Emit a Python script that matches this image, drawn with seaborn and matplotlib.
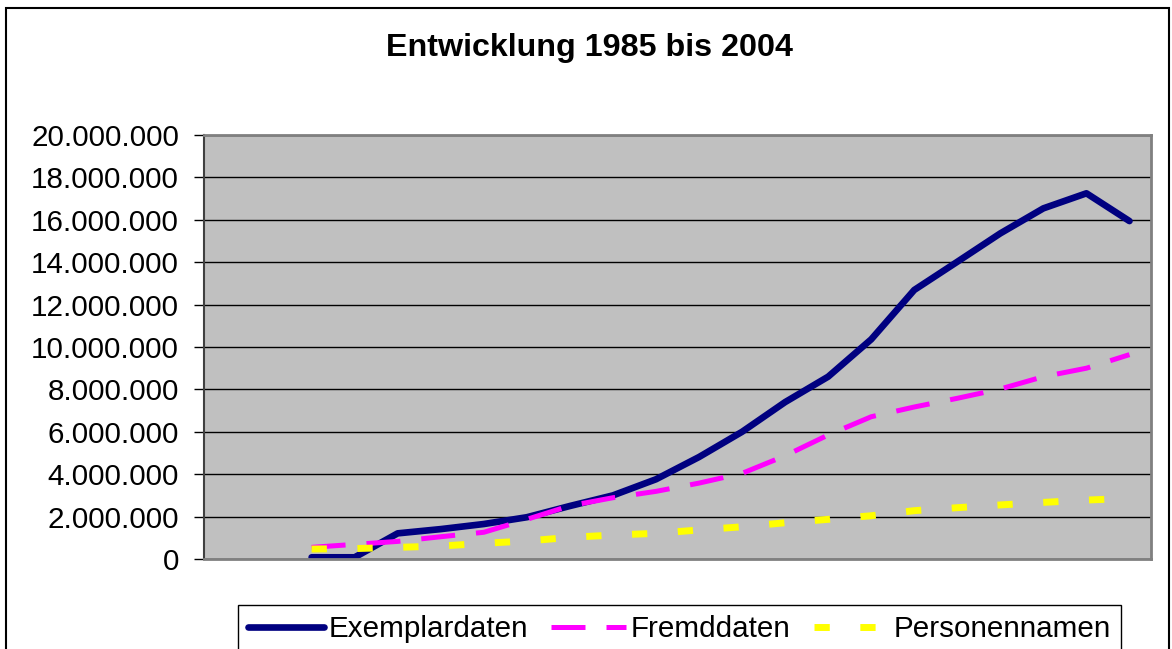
import matplotlib
matplotlib.use("Agg")
import matplotlib.pyplot as plt
import matplotlib.ticker as mticker
from matplotlib.patches import Rectangle
import seaborn as sns
import pandas as pd

# Werte (in Mio.)
jahre = list(range(1985, 2005))
exemplardaten = [0.08, 0.08, 1.21, 1.41, 1.65, 1.97, 2.5, 3.0, 3.76, 4.81,
                 6.0, 7.4, 8.6, 10.36, 12.69, 14.02, 15.36, 16.54, 17.25, 15.94]
fremddaten = [0.55, 0.69, 0.83, 1.05, 1.26, 1.87, 2.51, 2.89, 3.19, 3.58,
              4.04, 4.87, 5.85, 6.71, 7.17, 7.58, 8.02, 8.6, 9.0, 9.64]
personennamen = [0.47, 0.49, 0.55, 0.61, 0.74, 0.85, 1.02, 1.13, 1.21, 1.37,
                 1.52, 1.71, 1.87, 2.04, 2.28, 2.42, 2.55, 2.67, 2.78, 2.86]
y_ticks = list(range(0, 20_000_001, 2_000_000))

df = pd.DataFrame({
    "Jahr": jahre,
    "Exemplardaten": [v * 1e6 for v in exemplardaten],
    "Fremddaten": [v * 1e6 for v in fremddaten],
    "Personennamen": [v * 1e6 for v in personennamen],
})

plt.rcParams["font.family"] = ["Liberation Sans", "DejaVu Sans"]

fig = plt.figure(figsize=(11.72, 6.49), dpi=100)
fig.patch.set_facecolor("white")
ax = fig.add_axes([204 / 1172, 90 / 649, 947 / 1172, 424 / 649])
ax.set_facecolor("#C0C0C0")

# Rahmen um das ganze Diagramm
fig.add_artist(Rectangle((6 / 1172, -0.1), 1163 / 1172, 1.1 - 8 / 649,
                         transform=fig.transFigure, fill=False,
                         edgecolor="black", linewidth=1.5))

sns.lineplot(data=df, x="Jahr", y="Exemplardaten", ax=ax, color="#000080",
             linewidth=4.8, label="Exemplardaten",
             solid_capstyle="round", solid_joinstyle="round")
sns.lineplot(data=df, x="Jahr", y="Fremddaten", ax=ax, color="#FF00FF",
             linewidth=3.6, label="Fremddaten",
             dashes=(6.8, 4.2), dash_capstyle="butt")
sns.lineplot(data=df, x="Jahr", y="Personennamen", ax=ax, color="#FFFF00",
             linewidth=5.0, label="Personennamen",
             dashes=(2.2, 4.4), dash_capstyle="butt")

ax.set_xlim(1982.5, 2004.5)
ax.set_ylim(0, 20_000_000)
ax.set_yticks(y_ticks)
ax.yaxis.set_major_formatter(
    mticker.FuncFormatter(lambda v, p: f"{int(v):,}".replace(",", ".")))
ax.set_xticks([])
ax.set_xlabel("")
ax.set_ylabel("")
ax.tick_params(axis="y", labelsize=21.3, length=7, width=1, pad=11, color="black")
ax.grid(axis="y", color="black", linewidth=1)
ax.set_axisbelow(True)

for side in ["top", "right", "bottom"]:
    ax.spines[side].set_color("#808080")
    ax.spines[side].set_linewidth(2)
ax.spines["left"].set_color("#404040")
ax.spines["left"].set_linewidth(1.5)

fig.suptitle("Entwicklung 1985 bis 2004", fontsize=23.2, fontweight="bold",
             x=0.503, y=1 - 48 / 649, va="center")

ax.legend(loc="upper left", bbox_to_anchor=(238 / 1172, 44 / 649),
          bbox_transform=fig.transFigure, borderaxespad=0, ncol=3,
          fontsize=21.3, frameon=True, fancybox=False, edgecolor="black",
          framealpha=1, handlelength=2.55, handletextpad=0.15,
          columnspacing=0.78, borderpad=0.35)
ax.get_legend().get_frame().set_linewidth(1)

plt.savefig("out.png", dpi=100)
plt.close()
